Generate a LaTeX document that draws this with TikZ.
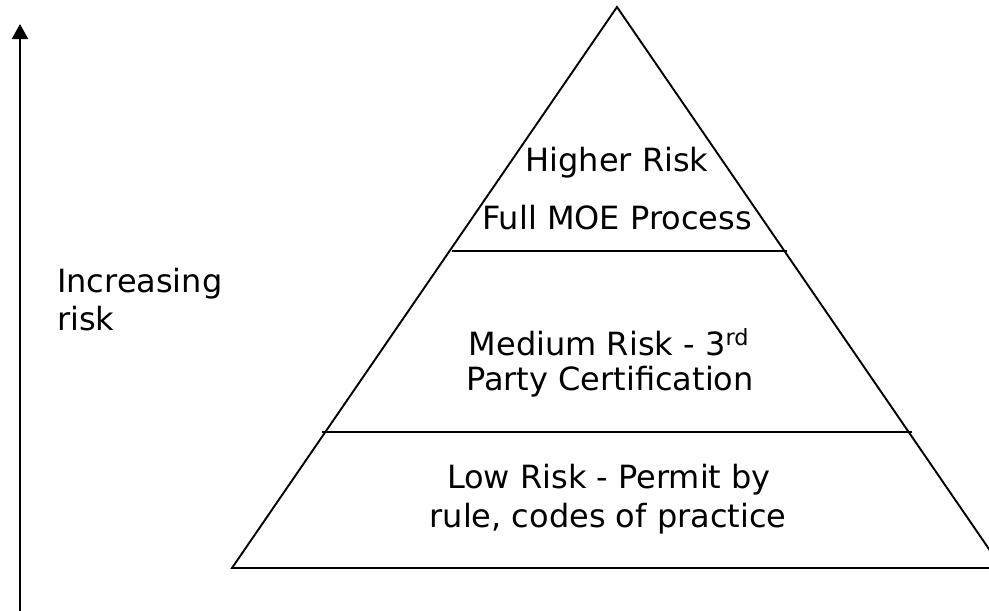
\documentclass[tikz,border=0pt]{standalone}
\usepackage{fontspec}
\setmainfont{DejaVu Sans}
\usetikzlibrary{arrows.meta}
\begin{document}
\begin{tikzpicture}[x=1pt,y=-1pt,
  edge/.style={line width=1.9pt, line join=miter},
  lbl/.style={inner sep=0pt, anchor=base, font=\fontsize{32}{38}\selectfont},
  lblw/.style={lbl, anchor=base west},
]
\useasboundingbox (0,0) rectangle (989,611);
\clip (0,0) rectangle (989,611);
% pyramid
\coordinate (apex) at (617,7);
\coordinate (bl) at (232,568);
\coordinate (br) at (1002,568);
\draw[edge] (bl) -- (apex) -- (br) -- cycle;
\coordinate (d1l) at (452,251);
\coordinate (d1r) at (787,251);
\draw[edge] (d1l) -- (d1r);
\coordinate (d2l) at (322,432);
\coordinate (d2r) at (912,432);
\draw[edge] (d2l) -- (d2r);
% risk arrow
\coordinate (abot) at (20,611);
\coordinate (atop) at (20,24);
\draw[line width=2.2pt, -{Triangle[width=16pt,length=15pt]}] (abot) -- (atop);
% labels
\node[lbl] (t1) at (617,171) {Higher Risk};
\node[lbl] (t2) at (617,229) {Full MOE Process};
\node[lbl] (m1) at (609,355) {Medium Risk - 3\textsuperscript{rd}};
\node[lbl] (m2) at (610,390) {Party Certification};
\node[lbl] (l1) at (609,488) {Low Risk - Permit by};
\node[lbl] (l2) at (608,527) {rule, codes of practice};
\node[lblw] (i1) at (57,292) {Increasing};
\node[lblw] (i2) at (57,330) {risk};
\end{tikzpicture}
\end{document}
